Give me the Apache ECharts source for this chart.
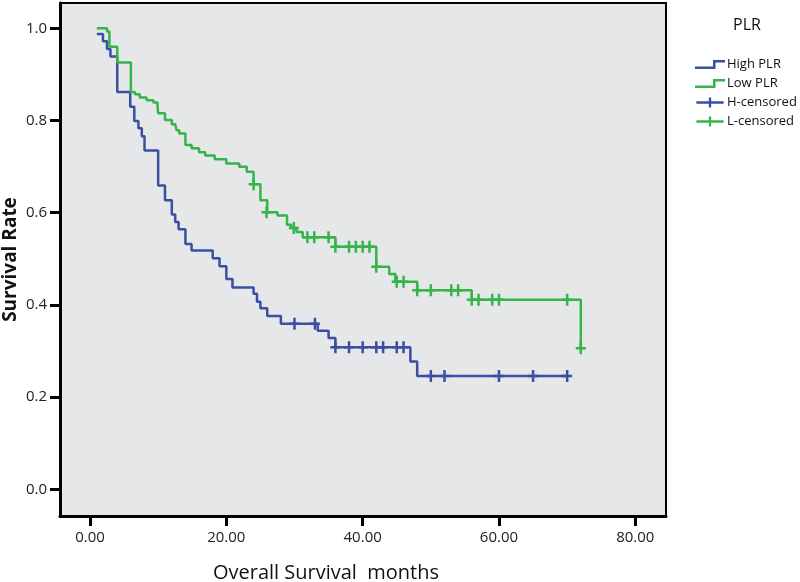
<!DOCTYPE html>
<html>
<head>
<meta charset="utf-8">
<script src="https://cdn.jsdelivr.net/npm/echarts@6/dist/echarts.min.js"></script>
<style>
html,body{margin:0;padding:0;background:#fff;}
#chart{width:800px;height:582px;}
</style>
</head>
<body>
<div id="chart"></div>
<script>
// Kaplan-Meier step curves: survival value applies from each time onward
const highTimes = [1, 1.9, 2.5, 3.0, 4.0, 5.9, 6.5, 7.1, 7.6, 8.0, 10.0, 11.0, 12.0, 12.5, 13.0, 14.0, 14.9, 18.0, 19.0, 20.0, 20.9, 24.0, 24.5, 25.0, 26.0, 28.0, 33.4, 35.0, 36.0, 47.0, 48.0, 70.0];
const highSurv  = [0.988, 0.972, 0.955, 0.939, 0.862, 0.830, 0.799, 0.783, 0.766, 0.735, 0.659, 0.627, 0.596, 0.580, 0.564, 0.532, 0.518, 0.501, 0.484, 0.456, 0.438, 0.424, 0.407, 0.393, 0.376, 0.359, 0.344, 0.328, 0.308, 0.277, 0.246, 0.246];

const lowTimes = [1, 2.5, 2.85, 4.0, 6.0, 6.6, 7.3, 8.3, 9.3, 9.9, 10.0, 11.0, 12.0, 12.5, 12.7, 13.1, 14.0, 14.9, 16.0, 16.9, 18.3, 20.0, 21.9, 23.0, 24.0, 25.0, 26.0, 27.5, 28.9, 29.5, 30.3, 31.2, 36.0, 42.0, 43.9, 44.8, 48.0, 56.0, 72.0];
const lowSurv  = [1.000, 0.993, 0.960, 0.926, 0.862, 0.857, 0.850, 0.844, 0.839, 0.831, 0.816, 0.801, 0.792, 0.788, 0.779, 0.772, 0.747, 0.740, 0.731, 0.724, 0.716, 0.707, 0.700, 0.689, 0.662, 0.627, 0.601, 0.594, 0.574, 0.567, 0.558, 0.547, 0.526, 0.483, 0.467, 0.450, 0.432, 0.411, 0.306];

const highCensorTimes = [30, 33, 36, 38, 40, 42, 43, 45, 46, 50, 52, 60, 65, 70];
const highCensorSurv  = [0.359, 0.359, 0.308, 0.308, 0.308, 0.308, 0.308, 0.308, 0.308, 0.246, 0.246, 0.246, 0.246, 0.246];

const lowCensorTimes = [24, 25.9, 29.9, 31.9, 32.9, 35.0, 36.0, 38.0, 39.0, 40.0, 41.0, 42.0, 45.0, 46.0, 48.0, 50.0, 53.0, 54.0, 56.0, 57.0, 59.0, 60.0, 70.0, 72.0];
const lowCensorSurv  = [0.662, 0.601, 0.567, 0.547, 0.547, 0.547, 0.526, 0.526, 0.526, 0.526, 0.526, 0.483, 0.450, 0.450, 0.432, 0.432, 0.432, 0.432, 0.411, 0.411, 0.411, 0.411, 0.411, 0.306];

const xTicks = [0, 20, 40, 60, 80];
const yTicks = [0, 0.2, 0.4, 0.6, 0.8, 1.0];

const seriesNames = ['High PLR', 'Low PLR', 'H-censored', 'L-censored'];
const BLUE = '#3a4fa3';
const GREEN = '#35b44a';
const FONT = 'Open Sans';

const zip = (a, b) => a.map((v, i) => [v, b[i]]);

const stepIcon = 'path://M0,6.5 H18 V0 H30 V2.5 H20.5 V9 H0 Z';
const plusIcon = 'path://M0,4.25 H13.75 V0 H16.25 V4.25 H30 V6.75 H16.25 V11 H13.75 V6.75 H0 Z';
const censorMark = 'path://M0,4.75 H3.75 V0 H6.25 V4.75 H10 V7.25 H6.25 V12 H3.75 V7.25 H0 Z';

const chart = echarts.init(document.getElementById('chart'), null, {renderer: 'canvas'});
chart.setOption({
  animation: false,
  backgroundColor: '#ffffff',
  textStyle: {fontFamily: FONT},
  title: {
    text: 'PLR', left: 728, top: 12,
    textStyle: {fontFamily: FONT, fontSize: 16, fontWeight: 'normal', color: '#111'}
  },
  legend: {
    orient: 'vertical', left: 690, top: 50,
    itemWidth: 30, itemHeight: 10, itemGap: 0,
    textStyle: {fontFamily: FONT, fontSize: 13, color: '#111', lineHeight: 19, padding: [0, 0, 0, -3]},
    data: [
      {name: seriesNames[0], icon: stepIcon},
      {name: seriesNames[1], icon: stepIcon},
      {name: seriesNames[2], icon: plusIcon},
      {name: seriesNames[3], icon: plusIcon}
    ]
  },
  grid: {
    left: 60, top: 3, width: 606, height: 513,
    outerBoundsMode: 'none', containLabel: false,
    show: true, backgroundColor: '#e6e7e8', borderColor: '#000', borderWidth: 2
  },
  xAxis: {
    type: 'value', min: -4.4, max: 84.5,
    name: 'Overall Survival  months', nameLocation: 'middle', nameGap: 47,
    nameTextStyle: {fontFamily: FONT, fontSize: 20, color: '#111', padding: [0, 74, 0, 0]},
    axisLine: {show: true, onZero: false, lineStyle: {color: '#000', width: 3}},
    axisTick: {show: true, customValues: xTicks, length: 10, lineStyle: {color: '#000', width: 3}},
    axisLabel: {customValues: xTicks, fontFamily: FONT, fontSize: 15, color: '#222', margin: 14,
      formatter: v => v.toFixed(2)},
    splitLine: {show: false}
  },
  yAxis: {
    type: 'value', min: -0.058, max: 1.055,
    name: 'Survival Rate', nameLocation: 'middle', nameGap: 40, nameMoveOverlap: false,
    nameTextStyle: {fontFamily: FONT, fontSize: 19, fontWeight: 'bold', color: '#111'},
    axisLine: {show: true, onZero: false, lineStyle: {color: '#000', width: 3}},
    axisTick: {show: true, customValues: yTicks, length: 10, lineStyle: {color: '#000', width: 3}},
    axisLabel: {customValues: yTicks, fontFamily: FONT, fontSize: 15, color: '#222', margin: 13,
      formatter: v => v.toFixed(1)},
    splitLine: {show: false}
  },
  series: [
    {
      name: seriesNames[0], type: 'line', step: 'end', symbol: 'none',
      data: zip(highTimes, highSurv),
      itemStyle: {color: BLUE}, lineStyle: {color: BLUE, width: 2.5}, z: 2
    },
    {
      name: seriesNames[1], type: 'line', step: 'end', symbol: 'none',
      data: zip(lowTimes, lowSurv),
      itemStyle: {color: GREEN}, lineStyle: {color: GREEN, width: 2.5}, z: 3
    },
    {
      name: seriesNames[2], type: 'scatter', symbol: censorMark, symbolSize: [10, 12],
      data: zip(highCensorTimes, highCensorSurv),
      itemStyle: {color: BLUE, opacity: 1}, z: 4
    },
    {
      name: seriesNames[3], type: 'scatter', symbol: censorMark, symbolSize: [10, 12],
      data: zip(lowCensorTimes, lowCensorSurv),
      itemStyle: {color: GREEN, opacity: 1}, z: 5
    }
  ]
});
</script>
</body>
</html>
